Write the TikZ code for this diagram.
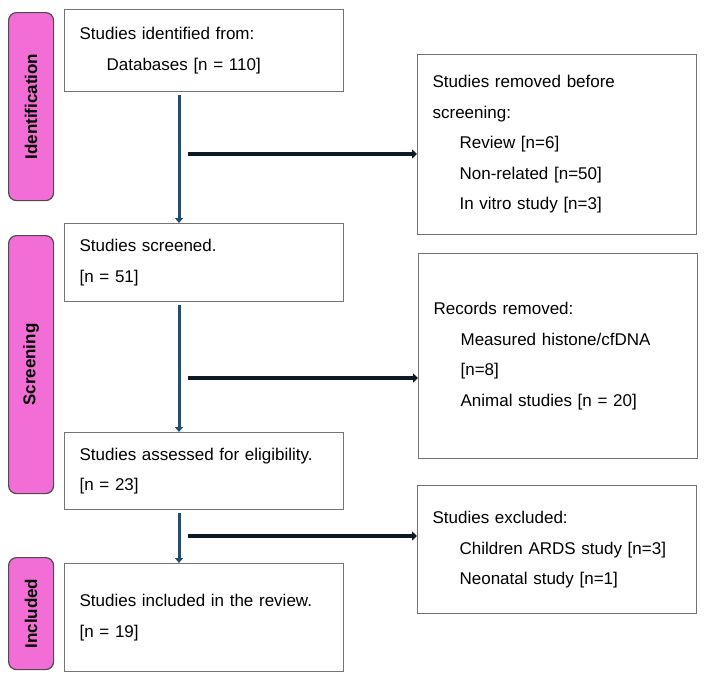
\documentclass[tikz,border=0pt]{standalone}
\usepackage{fontspec}
\setmainfont{Liberation Sans}
\usepackage{xcolor}
\usepackage{tikz}
\usetikzlibrary{positioning, arrows.meta}

\definecolor{tabpink}{HTML}{F26ED6}
\definecolor{flowblue}{HTML}{1D4F6E}
\definecolor{sidedark}{HTML}{0D1A26}

\begin{document}
\begin{tikzpicture}[x=1pt, y=-1pt,
    box/.style={draw=black!55, line width=1.2pt, fill=white, anchor=north west,
        inner xsep=15pt, inner ysep=0pt, text width=249pt, align=left,
        font=\fontsize{17}{30.5}\selectfont},
    stage/.style={draw=black!70, line width=1.2pt, fill=tabpink, rounded corners=8pt,
        anchor=north west, minimum width=45pt, inner sep=0pt,
        font=\bfseries\fontsize{17}{20}\selectfont},
    down/.style={draw=flowblue, line width=3pt, shorten <=3pt, -{Triangle[length=5pt, width=8pt]}},
    side/.style={draw=sidedark, line width=4.5pt, -{Triangle[length=5pt, width=9pt]}}]

    \useasboundingbox (0, 0) rectangle (706, 683);

    % stage tabs
    \node [stage, minimum height=188pt] (tabident) at (8, 12) {\rotatebox{90}{Identification}};
    \node [stage, minimum height=258pt] (tabscreen) at (8, 235) {\rotatebox{90}{Screening}};
    \node [stage, minimum height=112pt] (tabincl) at (8, 557) {\rotatebox{90}{Included}};

    % main column
    \node [box, minimum height=82pt] (ident) at (64, 9)
        {Studies identified from:\\ \hspace*{27pt}Databases [n = 110]};
    \node [box, minimum height=78pt] (screened) at (64, 223)
        {Studies screened.\\ {[n = 51]}};
    \node [box, minimum height=77pt] (assessed) at (64, 432)
        {Studies assessed for eligibility.\\ {[n = 23]}};
    \node [box, minimum height=108pt] (included) at (64, 563)
        {Studies included in the review.\\ {[n = 19]}};

    % side column
    \node [box, minimum height=180pt] (removed) at (417, 54)
        {Studies removed before\\ screening:\\
         \hspace*{27pt}Review [n=6]\\
         \hspace*{27pt}Non-related [n=50]\\
         \hspace*{27pt}In vitro study [n=3]};
    \node [box, minimum height=205pt] (records) at (418, 253)
        {Records removed:\\
         \hspace*{27pt}Measured histone/cfDNA\\
         \hspace*{27pt}[n=8]\\
         \hspace*{27pt}Animal studies [n = 20]};
    \node [box, minimum height=128pt] (excluded) at (417, 485)
        {Studies excluded:\\
         \hspace*{27pt}Children ARDS study [n=3]\\
         \hspace*{27pt}Neonatal study [n=1]};

    % flow
    \coordinate (spine) at (179, 0);
    \draw [down] (ident.south -| spine) -- (screened.north -| spine);
    \draw [down] (screened.south -| spine) -- (assessed.north -| spine);
    \draw [down] (assessed.south -| spine) -- (included.north -| spine);

    \coordinate (cut1) at (188, 154);
    \coordinate (cut2) at (188, 378);
    \coordinate (cut3) at (188, 536);
    \draw [side] (cut1) -- (cut1 -| removed.west);
    \draw [side] (cut2) -- (cut2 -| records.west);
    \draw [side] (cut3) -- (cut3 -| excluded.west);
\end{tikzpicture}
\end{document}
